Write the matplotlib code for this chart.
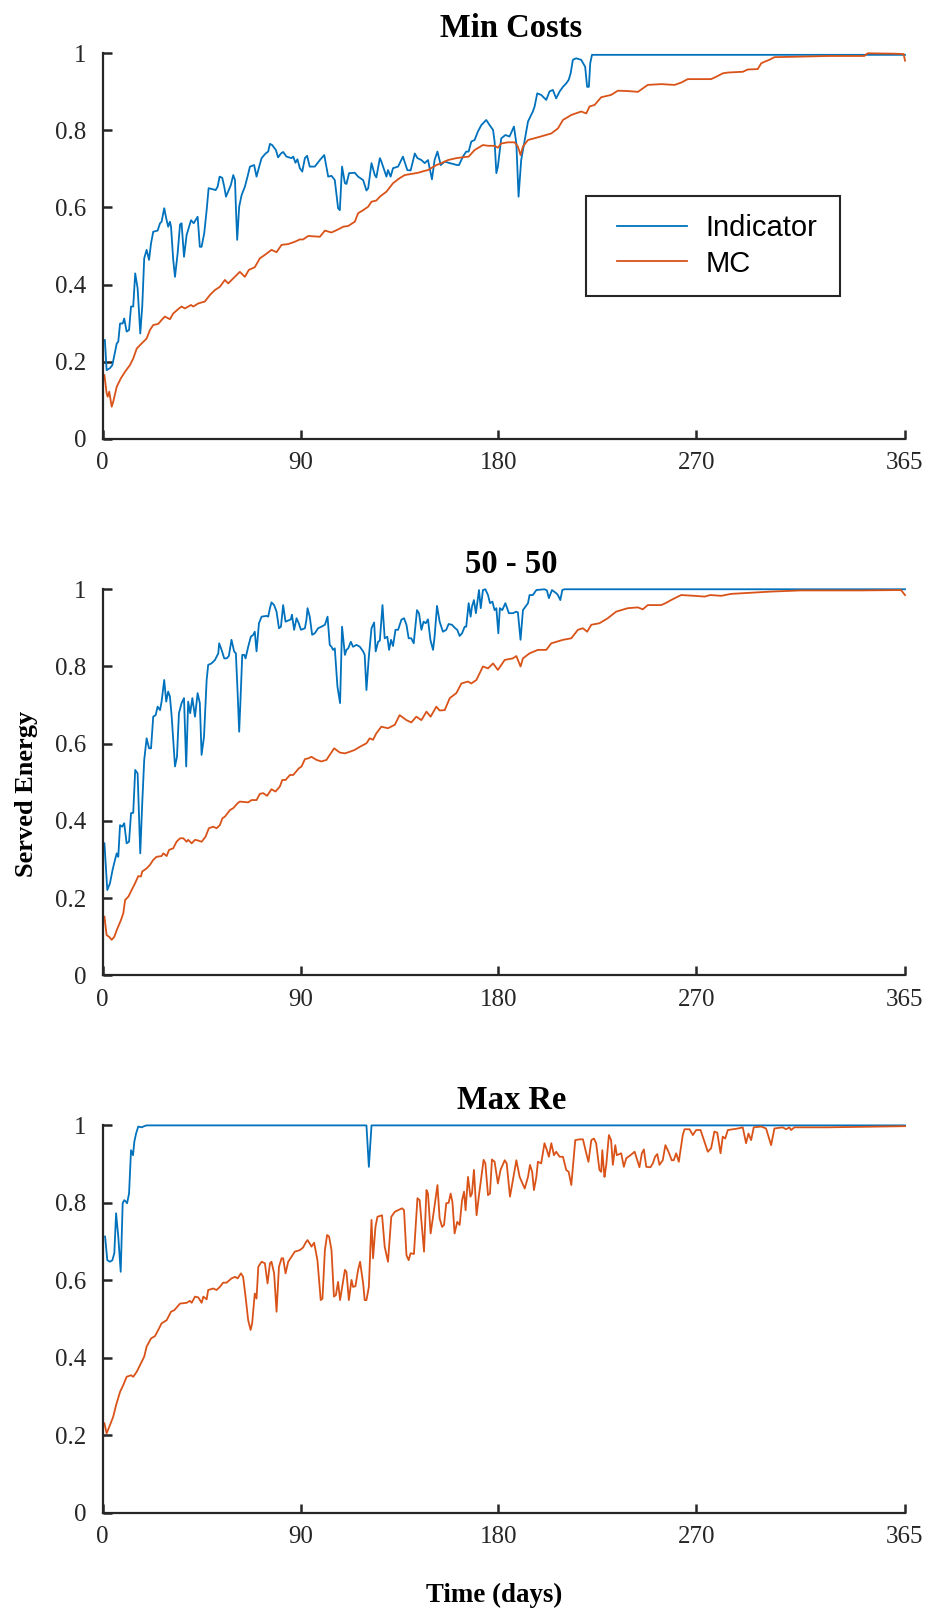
import matplotlib.pyplot as plt
from matplotlib.lines import Line2D
from matplotlib.legend_handler import HandlerLine2D

# Served energy (fraction) per day as (day, value)
mincost_indicator = [
    (1.0, 0.256), (1.8, 0.178), (3.3, 0.183), (4.4, 0.191), (6.4, 0.247), (7.1, 0.252),
    (7.9, 0.299), (9.1, 0.299), (9.8, 0.312), (10.9, 0.278), (12.0, 0.282), (12.9, 0.343),
    (13.9, 0.343), (14.8, 0.429), (15.9, 0.390), (17.1, 0.273), (18.0, 0.343), (18.9, 0.468),
    (20.0, 0.490), (21.1, 0.464), (22.0, 0.507), (23.0, 0.537), (25.0, 0.540), (26.1, 0.559),
    (26.8, 0.563), (28.0, 0.598), (28.9, 0.572), (29.8, 0.550), (30.6, 0.563), (31.1, 0.550),
    (32.1, 0.464), (32.9, 0.420), (34.1, 0.481), (35.2, 0.556), (35.9, 0.559), (37.0, 0.472),
    (38.2, 0.529), (38.9, 0.542), (40.2, 0.567), (41.4, 0.559), (43.2, 0.576), (44.2, 0.498),
    (45.0, 0.498), (46.2, 0.533), (47.3, 0.593), (48.2, 0.650), (50.3, 0.647), (51.4, 0.645),
    (52.3, 0.654), (53.2, 0.680), (54.4, 0.677), (55.3, 0.654), (56.1, 0.628), (58.3, 0.658),
    (59.4, 0.684), (60.2, 0.671), (60.6, 0.602), (61.2, 0.516), (62.1, 0.602), (63.2, 0.632),
    (64.7, 0.654), (65.9, 0.680), (67.0, 0.706), (68.9, 0.710), (70.0, 0.680), (71.2, 0.706),
    (72.3, 0.728), (74.1, 0.740), (75.3, 0.745), (76.1, 0.765), (77.1, 0.762), (78.8, 0.749),
    (79.8, 0.730), (81.1, 0.740), (82.1, 0.744), (83.6, 0.732), (85.9, 0.728), (86.7, 0.732),
    (87.7, 0.716), (88.6, 0.725), (89.7, 0.702), (90.8, 0.693), (92.0, 0.728), (93.0, 0.734),
    (94.2, 0.706), (96.5, 0.706), (98.8, 0.723), (100.8, 0.736), (102.6, 0.680), (104.1, 0.682),
    (105.6, 0.671), (107.1, 0.598), (107.9, 0.593), (108.9, 0.706), (110.2, 0.663), (110.9, 0.661),
    (112.1, 0.689), (114.7, 0.690), (116.2, 0.680), (118.5, 0.671), (120.0, 0.644), (120.8, 0.650),
    (122.3, 0.715), (123.8, 0.684), (124.5, 0.678), (126.1, 0.728), (126.8, 0.719), (128.3, 0.693),
    (129.1, 0.680), (129.8, 0.697), (131.0, 0.680), (132.1, 0.702), (134.4, 0.706), (136.6, 0.732),
    (138.6, 0.697), (140.1, 0.696), (142.0, 0.740), (143.2, 0.728), (145.0, 0.723), (146.5, 0.715),
    (148.0, 0.723), (149.8, 0.673), (151.0, 0.723), (152.3, 0.745), (153.8, 0.710), (155.6, 0.719),
    (157.9, 0.715), (161.3, 0.710), (162.1, 0.710), (163.9, 0.732), (165.4, 0.745), (166.5, 0.745),
    (167.7, 0.771), (169.2, 0.775), (170.7, 0.797), (172.3, 0.814), (174.5, 0.827), (176.0, 0.814),
    (177.6, 0.801), (178.3, 0.771), (179.1, 0.689), (179.8, 0.706), (181.3, 0.779), (183.2, 0.788),
    (185.1, 0.784), (187.1, 0.810), (188.2, 0.766), (189.2, 0.628), (190.4, 0.723), (192.0, 0.775),
    (193.5, 0.823), (195.7, 0.849), (196.5, 0.862), (197.7, 0.896), (199.5, 0.892), (201.8, 0.879),
    (203.3, 0.901), (204.8, 0.905), (206.3, 0.883), (207.9, 0.901), (209.4, 0.913), (210.9, 0.922),
    (212.0, 0.931), (212.9, 0.948), (213.9, 0.983), (215.4, 0.987), (217.7, 0.983), (219.5, 0.965),
    (220.4, 0.913), (221.2, 0.913), (221.8, 0.974), (222.6, 0.996), (365.0, 0.996),
]
mincost_mc = [
    (0.8, 0.165), (1.8, 0.118), (2.3, 0.109), (3.0, 0.122), (4.1, 0.083), (4.8, 0.096),
    (6.4, 0.135), (8.3, 0.157), (10.2, 0.174), (12.4, 0.191), (13.9, 0.208), (15.5, 0.234),
    (17.7, 0.247), (20.0, 0.260), (21.5, 0.282), (23.0, 0.295), (25.3, 0.298), (26.8, 0.308),
    (28.3, 0.317), (30.6, 0.310), (32.1, 0.325), (34.7, 0.338), (35.9, 0.343), (37.4, 0.338),
    (40.2, 0.347), (41.2, 0.343), (43.5, 0.351), (46.5, 0.356), (48.8, 0.373), (51.1, 0.386),
    (53.3, 0.394), (55.6, 0.412), (57.1, 0.403), (59.4, 0.416), (62.4, 0.433), (64.7, 0.420),
    (66.5, 0.438), (69.2, 0.445), (71.5, 0.468), (73.8, 0.477), (76.8, 0.490), (79.1, 0.484),
    (81.4, 0.503), (84.4, 0.505), (87.4, 0.511), (89.7, 0.517), (91.2, 0.517), (93.5, 0.526),
    (98.8, 0.524), (101.1, 0.540), (104.1, 0.535), (107.1, 0.543), (109.4, 0.550), (111.7, 0.552),
    (114.7, 0.563), (116.2, 0.585), (118.5, 0.593), (120.8, 0.602), (122.3, 0.615), (124.5, 0.618),
    (126.1, 0.628), (129.1, 0.641), (132.1, 0.663), (135.1, 0.676), (137.4, 0.684), (140.4, 0.687),
    (143.5, 0.690), (146.5, 0.695), (148.0, 0.697), (151.8, 0.710), (154.1, 0.715), (157.1, 0.723),
    (160.9, 0.728), (166.5, 0.732), (169.2, 0.749), (173.0, 0.762), (175.3, 0.760), (178.3, 0.760),
    (179.8, 0.755), (181.3, 0.766), (184.4, 0.769), (187.4, 0.769), (188.9, 0.758), (190.1, 0.736),
    (191.2, 0.758), (193.5, 0.775), (198.0, 0.782), (204.1, 0.792), (207.1, 0.805), (209.4, 0.827),
    (213.2, 0.840), (217.7, 0.849), (220.0, 0.844), (221.5, 0.862), (223.8, 0.866), (226.8, 0.886),
    (231.3, 0.892), (234.4, 0.903), (238.9, 0.902), (243.5, 0.900), (248.0, 0.918), (254.1, 0.920),
    (260.2, 0.918), (263.2, 0.924), (266.2, 0.933), (276.8, 0.933), (279.1, 0.939), (282.1, 0.948),
    (284.4, 0.950), (287.4, 0.951), (291.2, 0.952), (293.5, 0.958), (298.0, 0.959), (299.6, 0.974),
    (301.1, 0.978), (303.3, 0.983), (305.6, 0.990), (314.7, 0.991), (329.9, 0.993), (346.5, 0.993),
    (348.0, 1.000), (360.2, 0.999), (364.4, 0.998), (365.0, 0.981),
]

fifty_indicator = [
    (0.8, 0.342), (2.1, 0.221), (3.3, 0.238), (4.5, 0.273), (5.6, 0.299), (6.4, 0.316),
    (7.1, 0.307), (7.9, 0.389), (8.9, 0.385), (9.8, 0.394), (10.9, 0.342), (12.0, 0.346),
    (12.9, 0.420), (13.9, 0.421), (14.8, 0.532), (15.9, 0.523), (17.1, 0.316), (18.0, 0.446),
    (18.9, 0.558), (20.0, 0.614), (21.1, 0.588), (22.0, 0.588), (23.0, 0.670), (24.1, 0.674),
    (25.0, 0.696), (26.1, 0.687), (26.8, 0.709), (28.0, 0.765), (28.9, 0.709), (29.8, 0.735),
    (30.6, 0.722), (31.4, 0.670), (32.9, 0.541), (33.8, 0.566), (34.7, 0.679), (35.9, 0.705),
    (37.0, 0.718), (38.0, 0.541), (38.9, 0.709), (39.8, 0.679), (40.8, 0.718), (42.0, 0.670),
    (43.2, 0.731), (44.2, 0.705), (45.0, 0.571), (46.1, 0.618), (47.3, 0.765), (48.0, 0.804),
    (49.5, 0.808), (51.1, 0.817), (52.6, 0.834), (53.0, 0.860), (54.1, 0.843), (55.3, 0.821),
    (56.4, 0.821), (57.4, 0.827), (58.6, 0.869), (59.8, 0.839), (60.6, 0.834), (61.4, 0.731),
    (62.1, 0.631), (62.7, 0.713), (63.5, 0.830), (64.4, 0.830), (65.0, 0.821), (66.2, 0.851),
    (67.4, 0.877), (68.5, 0.882), (69.2, 0.890), (70.0, 0.839), (71.1, 0.912), (72.3, 0.929),
    (74.5, 0.931), (75.3, 0.929), (76.1, 0.951), (76.8, 0.966), (78.0, 0.959), (79.1, 0.942),
    (80.2, 0.899), (81.1, 0.903), (82.1, 0.959), (83.2, 0.916), (84.4, 0.919), (85.6, 0.922),
    (86.1, 0.934), (87.1, 0.895), (88.2, 0.925), (89.2, 0.912), (90.2, 0.895), (92.0, 0.899),
    (92.7, 0.921), (93.2, 0.951), (94.2, 0.929), (95.3, 0.882), (96.5, 0.886), (98.0, 0.899),
    (99.5, 0.903), (101.1, 0.908), (102.3, 0.929), (103.3, 0.856), (104.1, 0.851), (104.8, 0.843),
    (105.6, 0.847), (106.8, 0.748), (108.0, 0.705), (108.9, 0.903), (110.2, 0.830), (110.9, 0.843),
    (111.7, 0.847), (112.9, 0.864), (113.9, 0.851), (115.5, 0.856), (117.0, 0.851), (118.5, 0.839),
    (119.2, 0.830), (120.0, 0.739), (121.1, 0.826), (122.3, 0.899), (123.5, 0.914), (124.2, 0.839),
    (125.3, 0.864), (126.1, 0.867), (127.3, 0.959), (128.3, 0.873), (129.5, 0.877), (130.3, 0.843),
    (131.2, 0.869), (132.1, 0.853), (133.2, 0.895), (134.4, 0.895), (135.9, 0.921), (137.1, 0.925),
    (138.2, 0.908), (139.2, 0.873), (140.4, 0.873), (141.5, 0.860), (143.0, 0.946), (143.9, 0.938),
    (145.0, 0.895), (146.0, 0.916), (147.0, 0.912), (148.0, 0.922), (149.1, 0.869), (150.3, 0.843),
    (151.0, 0.877), (152.1, 0.957), (153.3, 0.916), (154.8, 0.890), (156.3, 0.895), (157.4, 0.910),
    (158.9, 0.908), (160.4, 0.899), (161.3, 0.895), (162.4, 0.879), (163.5, 0.886), (164.7, 0.903),
    (165.4, 0.903), (166.5, 0.964), (167.4, 0.929), (168.0, 0.955), (168.9, 0.972), (169.8, 0.938),
    (171.2, 0.998), (172.0, 0.951), (173.0, 0.998), (174.1, 1.000), (175.3, 0.985), (176.2, 0.964),
    (177.3, 0.968), (178.3, 0.946), (179.1, 0.951), (180.0, 0.886), (180.7, 0.951), (181.8, 0.946),
    (183.2, 0.964), (184.8, 0.938), (186.6, 0.938), (188.2, 0.942), (188.9, 0.940), (190.1, 0.869),
    (191.2, 0.946), (193.5, 0.964), (194.2, 0.985), (195.7, 0.985), (197.3, 0.998), (201.0, 1.000),
    (202.1, 0.997), (203.0, 0.977), (204.4, 0.998), (206.3, 0.990), (207.1, 0.985), (208.2, 0.972),
    (209.1, 0.998), (210.1, 1.000), (365.0, 1.000),
]
fifty_mc = [
    (0.8, 0.152), (1.8, 0.104), (2.9, 0.100), (4.1, 0.092), (5.3, 0.100), (6.4, 0.117),
    (8.3, 0.143), (9.4, 0.161), (10.2, 0.195), (11.7, 0.204), (13.2, 0.221), (14.7, 0.238),
    (16.2, 0.257), (17.4, 0.256), (18.0, 0.269), (20.0, 0.277), (21.5, 0.286), (23.0, 0.299),
    (24.5, 0.307), (26.8, 0.309), (27.6, 0.316), (29.1, 0.309), (30.2, 0.325), (32.1, 0.329),
    (33.6, 0.346), (35.2, 0.355), (36.7, 0.355), (38.2, 0.346), (38.9, 0.351), (40.5, 0.342),
    (42.0, 0.351), (43.5, 0.349), (45.0, 0.346), (46.8, 0.359), (48.3, 0.381), (50.3, 0.385),
    (51.8, 0.381), (53.3, 0.389), (54.5, 0.407), (55.6, 0.411), (57.9, 0.428), (59.4, 0.433),
    (61.4, 0.446), (62.4, 0.450), (66.2, 0.448), (67.7, 0.454), (70.0, 0.454), (71.5, 0.470),
    (73.0, 0.472), (74.8, 0.465), (76.8, 0.482), (78.6, 0.476), (80.6, 0.489), (81.7, 0.506),
    (83.2, 0.506), (85.2, 0.519), (86.7, 0.519), (89.2, 0.536), (90.5, 0.541), (92.0, 0.560),
    (93.5, 0.562), (95.0, 0.566), (97.3, 0.558), (99.5, 0.554), (101.8, 0.558), (103.8, 0.575),
    (105.3, 0.588), (107.9, 0.577), (110.2, 0.575), (112.4, 0.579), (114.7, 0.584), (117.0, 0.592),
    (120.0, 0.601), (121.5, 0.614), (123.0, 0.610), (124.5, 0.627), (126.8, 0.644), (129.8, 0.640),
    (132.9, 0.649), (135.1, 0.674), (138.2, 0.661), (140.4, 0.655), (142.7, 0.670), (145.0, 0.661),
    (147.3, 0.683), (149.2, 0.670), (151.8, 0.696), (153.3, 0.686), (155.6, 0.687), (157.9, 0.718),
    (160.9, 0.731), (163.2, 0.756), (166.2, 0.761), (167.7, 0.756), (170.0, 0.765), (173.0, 0.800),
    (175.3, 0.795), (177.6, 0.808), (179.8, 0.791), (182.9, 0.817), (186.6, 0.821), (188.2, 0.827),
    (190.1, 0.800), (191.2, 0.821), (194.2, 0.834), (198.0, 0.843), (201.8, 0.843), (204.1, 0.860),
    (209.4, 0.869), (213.2, 0.873), (216.2, 0.895), (218.5, 0.899), (220.4, 0.890), (222.3, 0.908),
    (226.0, 0.912), (229.8, 0.925), (233.6, 0.942), (235.9, 0.946), (238.9, 0.951), (243.5, 0.953),
    (245.7, 0.948), (248.0, 0.959), (254.1, 0.959), (256.4, 0.965), (258.6, 0.972), (261.7, 0.981),
    (263.2, 0.985), (269.3, 0.983), (273.8, 0.981), (276.5, 0.985), (281.4, 0.983), (285.9, 0.988),
    (295.0, 0.991), (304.1, 0.994), (317.7, 0.997), (345.0, 0.997), (363.2, 0.998), (365.0, 0.985),
]

maxre_indicator = [
    (1.1, 0.713), (2.1, 0.652), (3.3, 0.648), (4.4, 0.652), (5.3, 0.670), (6.1, 0.773),
    (7.1, 0.713), (8.2, 0.622), (9.1, 0.799), (9.8, 0.807), (10.6, 0.803), (11.1, 0.799),
    (12.0, 0.824), (12.9, 0.936), (13.8, 0.923), (14.4, 0.958), (15.2, 0.979), (16.2, 0.997),
    (17.7, 0.995), (18.9, 0.998), (20.0, 1.000), (120.0, 1.000), (121.1, 0.893), (122.3, 1.000),
    (365.0, 1.000),
]
maxre_mc = [
    (0.8, 0.231), (1.8, 0.205), (3.3, 0.226), (4.8, 0.248), (6.1, 0.278), (6.8, 0.291),
    (7.9, 0.312), (9.4, 0.330), (10.9, 0.351), (12.9, 0.355), (13.9, 0.351), (15.5, 0.364),
    (17.0, 0.381), (18.9, 0.403), (20.0, 0.429), (22.0, 0.450), (23.8, 0.456), (25.3, 0.472),
    (26.8, 0.489), (29.1, 0.497), (31.1, 0.519), (32.6, 0.523), (35.2, 0.540), (38.2, 0.542),
    (39.7, 0.547), (40.5, 0.542), (42.0, 0.558), (43.5, 0.556), (45.0, 0.542), (45.8, 0.558),
    (47.3, 0.551), (48.0, 0.575), (50.3, 0.579), (51.8, 0.575), (53.3, 0.583), (54.8, 0.594),
    (56.4, 0.594), (58.6, 0.605), (60.2, 0.609), (61.4, 0.605), (62.9, 0.618), (63.9, 0.609),
    (65.0, 0.558), (66.2, 0.497), (67.3, 0.472), (68.0, 0.489), (69.2, 0.566), (70.0, 0.553),
    (70.8, 0.635), (72.3, 0.648), (73.8, 0.644), (75.0, 0.592), (76.1, 0.644), (76.8, 0.648),
    (78.0, 0.618), (79.1, 0.519), (80.2, 0.635), (81.4, 0.657), (82.1, 0.657), (83.2, 0.618),
    (84.4, 0.648), (85.9, 0.661), (87.4, 0.674), (89.7, 0.678), (91.2, 0.685), (92.3, 0.697),
    (93.2, 0.704), (94.2, 0.695), (95.0, 0.687), (96.2, 0.697), (97.7, 0.652), (99.2, 0.549),
    (100.0, 0.553), (101.1, 0.678), (102.1, 0.717), (103.0, 0.713), (104.1, 0.678), (105.2, 0.558),
    (106.1, 0.562), (107.1, 0.596), (108.0, 0.549), (110.2, 0.627), (110.9, 0.622), (112.0, 0.549),
    (113.2, 0.601), (113.9, 0.583), (115.0, 0.585), (116.2, 0.627), (117.1, 0.648), (118.5, 0.592),
    (119.2, 0.549), (120.0, 0.549), (121.1, 0.583), (122.3, 0.756), (123.0, 0.657), (124.1, 0.738),
    (125.0, 0.764), (127.1, 0.768), (128.3, 0.687), (129.8, 0.648), (131.3, 0.764), (132.9, 0.777),
    (136.2, 0.786), (137.1, 0.781), (138.2, 0.665), (139.2, 0.652), (140.1, 0.670), (141.6, 0.668),
    (143.2, 0.812), (144.2, 0.807), (146.2, 0.674), (147.3, 0.833), (148.0, 0.824), (149.2, 0.721),
    (150.3, 0.764), (152.3, 0.846), (153.3, 0.760), (154.4, 0.738), (155.3, 0.743), (156.3, 0.799),
    (157.4, 0.800), (158.3, 0.824), (159.1, 0.803), (160.1, 0.721), (161.3, 0.751), (162.4, 0.743),
    (163.5, 0.807), (164.4, 0.829), (165.1, 0.781), (166.2, 0.867), (167.3, 0.816), (168.0, 0.824),
    (168.9, 0.885), (170.1, 0.768), (171.2, 0.820), (172.3, 0.867), (173.3, 0.911), (174.1, 0.902),
    (175.3, 0.820), (176.2, 0.824), (177.1, 0.912), (178.3, 0.906), (179.8, 0.850), (181.0, 0.885),
    (182.9, 0.910), (183.8, 0.902), (185.3, 0.816), (188.2, 0.910), (189.7, 0.867), (192.0, 0.837),
    (193.5, 0.867), (194.4, 0.898), (195.4, 0.880), (196.2, 0.833), (197.3, 0.867), (198.0, 0.906),
    (199.5, 0.902), (201.0, 0.954), (202.1, 0.936), (203.0, 0.919), (204.1, 0.954), (205.3, 0.923),
    (206.3, 0.932), (207.9, 0.919), (209.4, 0.919), (210.9, 0.885), (212.0, 0.880), (213.2, 0.846),
    (215.0, 0.962), (217.0, 0.964), (218.5, 0.964), (220.0, 0.928), (221.0, 0.906), (222.3, 0.962),
    (223.5, 0.966), (224.5, 0.954), (226.0, 0.885), (226.8, 0.880), (227.3, 0.936), (228.0, 0.885),
    (228.3, 0.867), (229.1, 0.898), (230.3, 0.975), (231.3, 0.962), (232.1, 0.898), (233.2, 0.949),
    (233.9, 0.923), (235.9, 0.928), (237.1, 0.893), (238.2, 0.915), (240.1, 0.923), (242.0, 0.932),
    (243.2, 0.910), (244.2, 0.892), (245.3, 0.928), (246.2, 0.938), (247.3, 0.893), (249.2, 0.892),
    (250.3, 0.902), (251.3, 0.919), (252.3, 0.926), (253.3, 0.898), (254.8, 0.910), (256.0, 0.949),
    (257.4, 0.932), (258.9, 0.910), (259.8, 0.910), (260.9, 0.928), (262.1, 0.906), (263.9, 0.975),
    (264.7, 0.990), (267.0, 0.990), (268.5, 0.975), (270.0, 0.988), (272.0, 0.988), (273.0, 0.971),
    (275.3, 0.932), (276.8, 0.941), (278.3, 0.984), (279.6, 0.981), (281.1, 0.928), (282.1, 0.971),
    (283.2, 0.966), (284.4, 0.988), (286.7, 0.990), (289.0, 0.992), (291.2, 0.995), (292.7, 0.954),
    (293.8, 0.979), (295.0, 0.962), (296.2, 0.995), (299.6, 0.997), (301.8, 0.992), (304.1, 0.949),
    (305.6, 0.992), (309.4, 0.995), (310.9, 0.990), (312.4, 0.995), (313.2, 0.988), (314.7, 0.995),
    (329.9, 0.995), (354.1, 0.997), (365.0, 0.998),
]

panel_titles = ['Min Costs', '50 - 50', 'Max Re']
series_labels = ['Indicator', 'MC']
x_ticks = [0, 90, 180, 270, 365]
y_ticks = [0, 0.2, 0.4, 0.6, 0.8, 1]
y_ticklabels = ['0', '0.2', '0.4', '0.6', '0.8', '1']

BLUE = '#0072BD'
ORANGE = '#D95319'
AXIS_COLOR = '#262626'
SANS = ['Liberation Sans', 'DejaVu Sans']

plt.rcParams['font.family'] = ['Liberation Serif', 'DejaVu Serif']

fig = plt.figure(figsize=(9.3, 16.1), dpi=100)

# axes rectangles (left, bottom, width, height) in figure fractions
boxes = [
    (0.1104, 0.7275, 0.8627, 0.2394),
    (0.1104, 0.3942, 0.8627, 0.2398),
    (0.1104, 0.0604, 0.8627, 0.2406),
]
panels = [
    (mincost_indicator, mincost_mc),
    (fifty_indicator, fifty_mc),
    (maxre_indicator, maxre_mc),
]

axes = []
for box, title, series_pair in zip(boxes, panel_titles, panels):
    ax = fig.add_axes(box)
    for series, color, label in zip(series_pair, (BLUE, ORANGE), series_labels):
        days, values = zip(*series)
        ax.plot(days, values, color=color, lw=1.3, label=label, clip_on=False)

    ax.set_xlim(0, 365)
    ax.set_ylim(0, 1)
    ax.set_xticks(x_ticks)
    ax.set_xticklabels([str(t) for t in x_ticks])
    ax.set_yticks(y_ticks)
    ax.set_yticklabels(y_ticklabels)
    ax.tick_params(direction='in', length=6.5, width=1.8, color=AXIS_COLOR,
                   labelcolor=AXIS_COLOR, labelsize=18)
    ax.tick_params(axis='x', pad=9.5)
    ax.tick_params(axis='y', pad=12)
    for side in ('top', 'right'):
        ax.spines[side].set_visible(False)
    for side in ('left', 'bottom'):
        ax.spines[side].set_color(AXIS_COLOR)
        ax.spines[side].set_linewidth(1.6)
    ax.set_title(title, fontsize=23.5, fontweight='bold', pad=12, x=0.5095)
    axes.append(ax)

# legend box placed like the original (top panel, right of centre)
fs = 21
leg = axes[0].legend(
    loc='upper left',
    bbox_to_anchor=(586 / 930, 1 - 196 / 1610 - 0.05, 254 / 930, 0.05),
    bbox_transform=fig.transFigure, mode='expand', borderaxespad=0,
    borderpad=0.62, handlelength=2.83, handletextpad=0.65, labelspacing=0.26,
    fancybox=False, framealpha=1, prop={'family': SANS, 'size': fs},
    handler_map={Line2D: HandlerLine2D(xpad=0.43)},
)
leg.get_frame().set_edgecolor(AXIS_COLOR)
leg.get_frame().set_linewidth(1.5)

fig.text(26 / 930, 1 - 794 / 1610, 'Served Energy', rotation=90, ha='center', va='center',
         fontsize=19, fontweight='bold', color='black')
fig.text(494 / 930, 1 - 1595 / 1610, 'Time (days)', ha='center', va='center',
         fontsize=19.4, fontweight='bold', color='black')

fig.savefig('out.png', dpi=100)
